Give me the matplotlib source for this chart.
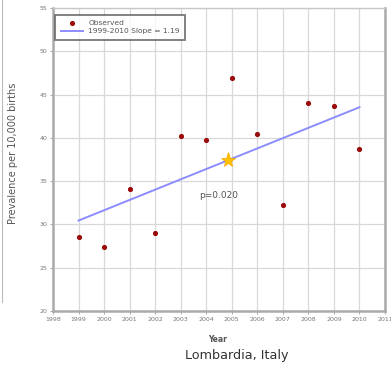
import numpy as np
import matplotlib.pyplot as plt

# observed prevalence per 10,000 births, Lombardia
years = [1999, 2000, 2001, 2002, 2003, 2004, 2005, 2006, 2007, 2008, 2009, 2010]
prevalence = [28.6, 27.4, 34.1, 29.0, 40.2, 39.8, 46.9, 40.5, 32.2, 44.0, 43.7, 38.75]

# fitted trend 1999-2010
trend_years = [1999, 2010]
trend_values = [30.45, 43.54]
slope_label = "1999-2010 Slope = 1.19"

# centre point and p-value
star_year, star_value = 2004.85, 37.45
p_text = "p=0.020"

xticks = list(range(1998, 2012))
yticks = [20, 25, 30, 35, 40, 45, 50, 55]

fig = plt.figure(figsize=(3.91, 3.69), dpi=100)
ax = fig.add_axes([0.1356, 0.1572, 0.849, 0.821])

ax.grid(True, color="#d8d8d8", linewidth=0.9)
ax.set_axisbelow(True)

obs, = ax.plot(years, prevalence, linestyle="none", marker="o", markersize=2.7,
               color="#9b0a0a", label="Observed", zorder=3)
fit, = ax.plot(trend_years, trend_values, color="#8c8cff", linewidth=1.4,
               label=slope_label, zorder=2)
ax.plot(star_year, star_value, marker="*", markersize=11, color="#ffc000",
        markeredgecolor="#f5a800", markeredgewidth=0.5, linestyle="none", zorder=4)
ax.text(2004.5, 33.3, p_text, fontsize=6.5, color="#555555", ha="center", va="center")

ax.set_xlim(1998, 2011)
ax.set_ylim(20, 55)
ax.set_xticks(xticks)
ax.set_yticks(yticks)
ax.tick_params(axis="both", labelsize=4.5, colors="#999999", labelcolor="#777777",
               length=2, width=0.6, pad=2)

for side in ["left", "bottom", "right"]:
    ax.spines[side].set_color("#aaaaaa")
    ax.spines[side].set_linewidth(1.8)
ax.spines["top"].set_color("#c8c8c8")
ax.spines["top"].set_linewidth(1.0)

ax.set_ylabel("Prevalence per 10,000 births", fontsize=7, color="#555555")
ax.yaxis.set_label_coords(-0.105, 0.52)
fig.text(218 / 391, 1 - 340 / 369, "Year", fontsize=5.5, fontweight="bold",
         color="#555555", ha="center", va="center")
fig.text(237 / 391, 1 - 356 / 369, "Lombardia, Italy", fontsize=9.2,
         color="#333333", ha="center", va="center")

leg = ax.legend(handles=[obs, fit], loc="upper left", bbox_to_anchor=(0.0, 0.985),
                fontsize=5.4, frameon=True, fancybox=False, borderpad=0.7,
                handlelength=3.0, labelspacing=0.25, handletextpad=0.7,
                borderaxespad=0.3)
leg.get_frame().set_edgecolor("#555555")
leg.get_frame().set_linewidth(1.3)
for t in leg.get_texts():
    t.set_color("#555555")

# thin rule down the left margin
fig.add_artist(plt.Line2D([0.004, 0.004], [1.0, 1 - 302 / 369], color="#bbbbbb", linewidth=0.8))

fig.savefig("out.png", dpi=100)
